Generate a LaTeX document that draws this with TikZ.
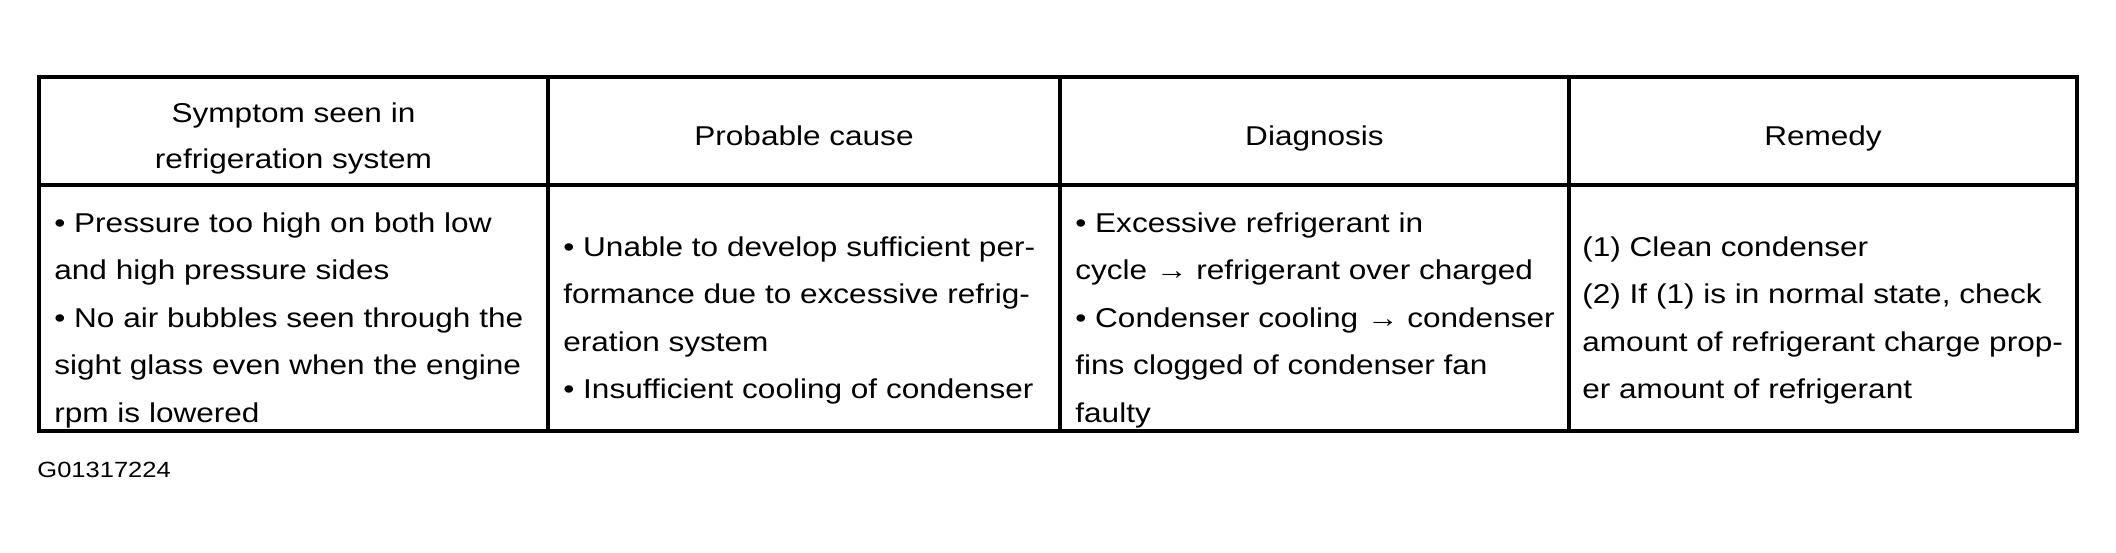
\documentclass[tikz,border=0pt]{standalone}
\usepackage{fontspec}
\setmainfont[FakeStretch=1.16]{Liberation Sans}
\begin{document}
\begin{tikzpicture}[x=0.5pt,y=-0.5pt,
  rule/.style={line width=2pt},
  cell/.style={anchor=base west, align=left, inner sep=0pt, font=\fontsize{13.6}{23.75}\selectfont},
  head/.style={anchor=base, align=center, inner sep=0pt, font=\fontsize{13.6}{23}\selectfont}]
\useasboundingbox (0,0) rectangle (2116,552);
\fill[white] (0,0) rectangle (2116,552);
% table frame
\coordinate (TL) at (39,77);
\coordinate (BR) at (2077,431);
\draw[rule] (TL) rectangle (BR);
\draw[rule] (39,185) -- (2077,185);
\foreach \x in {548,1060,1569} \draw[rule] (\x,77) -- (\x,431);
% headers (anchor base = baseline of the last line)
\node[head] (h1) at (293.5,168) {Symptom seen in\\refrigeration system};
\node[head] (h2) at (804,145) {Probable cause};
\node[head] (h3) at (1314.5,145) {Diagnosis};
\node[head] (h4) at (1823,145) {Remedy};
% body (anchor base = baseline of the last line)
\node[cell] (c1) at (54,422) {• Pressure too high on both low\\and high pressure sides\\• No air bubbles seen through the\\sight glass even when the engine\\rpm is lowered};
\node[cell] (c2) at (563,398.5) {• Unable to develop sufficient per-\\formance due to excessive refrig-\\eration system\\• Insufficient cooling of condenser};
\node[cell] (c3) at (1075,422) {• Excessive refrigerant in\\cycle → refrigerant over charged\\• Condenser cooling → condenser\\fins clogged of condenser fan\\faulty};
\node[cell] (c4) at (1582,398.5) {(1) Clean condenser\\(2) If (1) is in normal state, check\\amount of refrigerant charge prop-\\er amount of refrigerant};
% figure id
\node[anchor=base west, inner sep=0pt, font=\fontsize{11}{13}\selectfont] (figid) at (37,477) {G01317224};
\end{tikzpicture}
\end{document}
